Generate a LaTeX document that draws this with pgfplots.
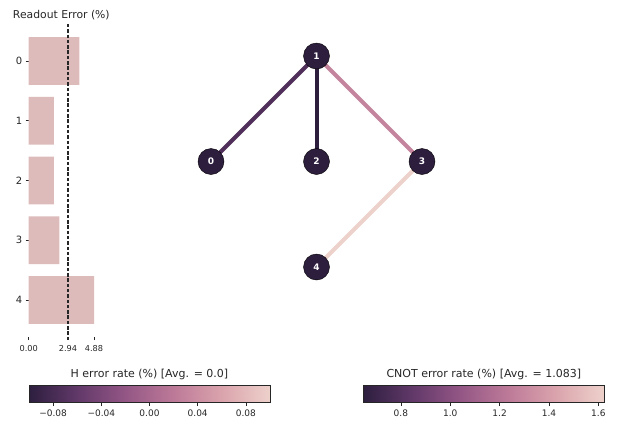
\documentclass[border=0pt]{standalone}
\usepackage{fontspec}
\setmainfont{DejaVu Sans}
\usepackage{pgfplots}
\pgfplotsset{compat=1.18}

\definecolor{txt}{HTML}{262626}
\definecolor{qubit}{rgb}{0.176,0.119,0.244}
\definecolor{readbar}{HTML}{DDBBBA}

% seaborn cubehelix_palette(reverse=True)
\pgfplotsset{
  colormap={cubehelix}{rgb=(0.176,0.119,0.244) rgb=(0.379,0.222,0.411)
    rgb=(0.577,0.338,0.521) rgb=(0.741,0.478,0.597) rgb=(0.856,0.642,0.676)
    rgb=(0.931,0.819,0.796)},
  /pgf/number format/assume math mode=true,
  cbar/.style={
    scale only axis, width=241pt, height=17pt,
    ymin=0, ymax=1, ytick=\empty, axis on top,
    tick align=outside, xtick pos=bottom, major tick length=3.5pt,
    tick style={txt, line width=0.6pt},
    axis line style={txt, line width=0.6pt},
    xticklabel style={font=\fontsize{9}{10}\selectfont, text=txt},
    title style={font=\fontsize{11}{13}\selectfont, text=txt, yshift=-4pt},
    colormap name=cubehelix, enlargelimits=false,
  },
}

\begin{document}
\begin{tikzpicture}[x=1pt,y=1pt]
\useasboundingbox (0,0) rectangle (619,429);

% readout error bars
\begin{axis}[at={(28.7pt,92pt)}, anchor=south west, scale only axis,
  width=65.3pt, height=313pt,
  xmin=0, xmax=4.88, ymin=-0.62, ymax=4.62, y dir=reverse,
  axis x line*=bottom, axis y line*=left, axis line style={draw=none},
  xtick={0,2.94,4.88}, xticklabels={0.00,2.94,4.88}, ytick={0,1,2,3,4},
  tick align=outside, major tick length=3pt, tick style={txt, line width=0.6pt},
  xticklabel style={font=\fontsize{8.2}{9}\selectfont, text=txt, yshift=-2pt},
  yticklabel style={font=\fontsize{10}{12}\selectfont, text=txt},
  title={Readout Error (\%)},
  title style={font=\fontsize{10.8}{13}\selectfont, text=txt, yshift=-5pt},
  clip=false]
\addplot[xbar, bar width=0.8, fill=readbar, draw=none]
  coordinates {(3.78,0) (1.88,1) (1.88,2) (2.30,3) (4.88,4)};
\addplot[txt, line width=1.2pt, dash pattern=on 3.5pt off 1.8pt]
  coordinates {(2.94,-0.62) (2.94,4.67)};
\end{axis}

% coupling map
\begin{axis}[at={(158.25pt,109.25pt)}, anchor=south west, scale only axis,
  width=316.5pt, height=316.5pt,
  xmin=-0.5, xmax=2.5, ymin=-0.5, ymax=2.5, y dir=reverse,
  hide axis, clip=false,
  colormap name=cubehelix, point meta min=0.648, point meta max=1.624]
\addplot[mesh, line width=4pt, point meta=explicit] coordinates {(0,1) [0.78] (1,0) [0.78]};
\addplot[mesh, line width=4pt, point meta=explicit] coordinates {(1,0) [0.648] (1,1) [0.648]};
\addplot[mesh, line width=4pt, point meta=explicit] coordinates {(1,0) [1.28] (2,1) [1.28]};
\addplot[mesh, line width=4pt, point meta=explicit] coordinates {(2,1) [1.624] (1,2) [1.624]};
\addplot[only marks, mark=*, mark size=13pt, mark options={fill=qubit, draw=none},
  point meta=explicit symbolic, nodes near coords, nodes near coords align=center,
  every node near coord/.append style={font=\bfseries\fontsize{9}{10}\selectfont, text=white}]
  coordinates {(0,1) [0] (1,0) [1] (1,1) [2] (2,1) [3] (1,2) [4]};
\end{axis}

% H error colorbar
\begin{axis}[cbar, at={(29pt,26.5pt)}, anchor=south west,
  xmin=-0.1, xmax=0.1,
  xtick={-0.08,-0.04,0,0.04,0.08},
  xticklabels={−0.08,−0.04,0.00,0.04,0.08},
  point meta min=-0.1, point meta max=0.1,
  title={H error rate (\%) [Avg. = 0.0]}]
\addplot[patch, patch type=rectangle, shader=interp, point meta=x] coordinates {
  (-0.10,0) (-0.06,0) (-0.06,1) (-0.10,1)
  (-0.06,0) (-0.02,0) (-0.02,1) (-0.06,1)
  (-0.02,0) (0.02,0) (0.02,1) (-0.02,1)
  (0.02,0) (0.06,0) (0.06,1) (0.02,1)
  (0.06,0) (0.10,0) (0.10,1) (0.06,1)};
\end{axis}

% CNOT error colorbar
\begin{axis}[cbar, at={(363.3pt,26.5pt)}, anchor=south west,
  xmin=0.648, xmax=1.624,
  xtick={0.8,1.0,1.2,1.4,1.6},
  xticklabels={0.8,1.0,1.2,1.4,1.6},
  point meta min=0.648, point meta max=1.624,
  title={CNOT error rate (\%) [Avg. = 1.083]}]
\addplot[patch, patch type=rectangle, shader=interp, point meta=x] coordinates {
  (0.6480,0) (0.8432,0) (0.8432,1) (0.6480,1)
  (0.8432,0) (1.0384,0) (1.0384,1) (0.8432,1)
  (1.0384,0) (1.2336,0) (1.2336,1) (1.0384,1)
  (1.2336,0) (1.4288,0) (1.4288,1) (1.2336,1)
  (1.4288,0) (1.6240,0) (1.6240,1) (1.4288,1)};
\end{axis}
\end{tikzpicture}
\end{document}
